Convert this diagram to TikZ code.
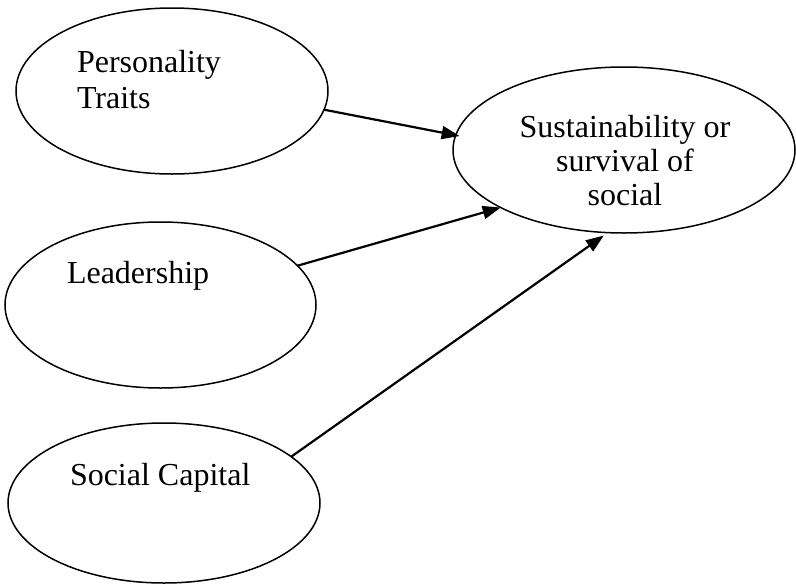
\documentclass[tikz,border=0pt]{standalone}
\usepackage{fontspec}
\setmainfont{Liberation Serif}
\usetikzlibrary{shapes.geometric,arrows.meta}
\begin{document}
\begin{tikzpicture}[x=1pt,y=-1pt,
  oval/.style={draw=black,line width=1.5pt,ellipse,inner sep=0pt,outer sep=0pt},
  lbl/.style={inner sep=0pt,outer sep=0pt,font=\fontsize{32}{36}\selectfont},
  conn/.style={line width=2.2pt,-{Triangle[length=18pt,width=13pt]}}]
\useasboundingbox (0,0) rectangle (796,584);
\node[oval,minimum width=312pt,minimum height=166pt] (pers) at (172,91) {};
\node[oval,minimum width=311pt,minimum height=166pt] (lead) at (160.5,305) {};
\node[oval,minimum width=312pt,minimum height=160pt] (soc) at (164,503) {};
\node[oval,minimum width=342pt,minimum height=166pt] (sus) at (624,150) {};
\node[lbl,anchor=base west,align=left] (perst) at (77,108) {Personality\\Traits};
\node[lbl,anchor=base west] (leadt) at (67,283) {Leadership};
\node[lbl,anchor=base west] (soct) at (70,485) {Social Capital};
\node[lbl,anchor=base,align=center,font=\fontsize{32}{34}\selectfont] (sust) at (625,205) {Sustainability or\\survival of\\social};
\draw[conn,shorten >=-4pt] (pers.-7.4) -- (sus.175.1);
\draw[conn] (lead.16.2) -- (sus.205.1);
\draw[conn,shorten >=5pt] (soc.20.7) -- (sus.259.1);
\end{tikzpicture}
\end{document}
